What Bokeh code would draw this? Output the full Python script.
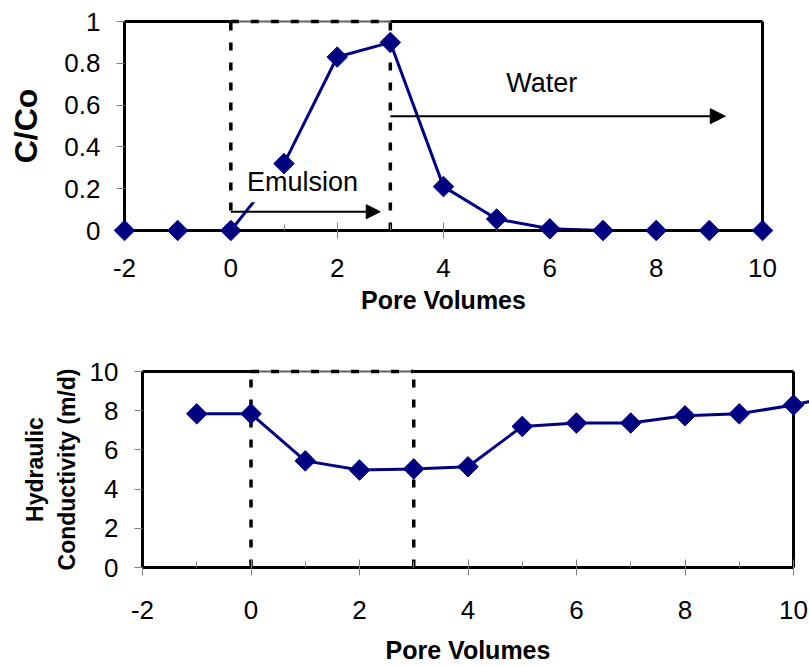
from bokeh.plotting import figure
from bokeh.layouts import column
from bokeh.models import (Range1d, SingleIntervalTicker, FixedTicker, PrintfTickFormatter,
                          Label, Arrow, NormalHead)
from bokeh.embed import file_html
from bokeh.resources import INLINE

# Breakthrough curve: relative concentration vs pore volumes
pv_conc = [-2, -1, 0, 1, 2, 3, 4, 5, 6, 7, 8, 9, 10]
c_over_co = [0, 0, 0, 0.32, 0.83, 0.90, 0.21, 0.055, 0.008, 0, 0, 0, 0]

# Hydraulic conductivity (m/d) vs pore volumes
pv_k = [-1, 0, 1, 2, 3, 4, 5, 6, 7, 8, 9, 10, 11]
k_md = [7.84, 7.84, 5.44, 4.97, 5.03, 5.14, 7.2, 7.37, 7.37, 7.74, 7.84, 8.29, 8.9]

# Emulsion injected between these pore volumes, then water flush
phase_bounds = [0, 3]
x_bounds = [-2, 10]
conc_bounds = [0, 1]
k_bounds = [0, 10]
conc_ticks = [0, 0.2, 0.4, 0.6, 0.8, 1]
k_ticks = [0, 2, 4, 6, 8, 10]

FONT = "Liberation Sans"
NAVY = "#000080"
DASH = "8 12"


def style_axes(p, x_title, y_title, y_ticks, y_title_size, y_title_standoff,
               x_label_standoff, x_title_standoff):
    xa, ya = p.xaxis[0], p.yaxis[0]
    xa.ticker = SingleIntervalTicker(interval=2, num_minor_ticks=2)
    ya.ticker = FixedTicker(ticks=y_ticks)
    for ax in (xa, ya):
        ax.formatter = PrintfTickFormatter(format="%g")
        ax.axis_line_color = "black"
        ax.axis_line_width = 3
        ax.major_tick_line_color = "#7f7f7f"
        ax.major_tick_line_width = 1
        ax.minor_tick_line_color = "#7f7f7f"
        ax.minor_tick_line_width = 1
        ax.major_label_text_font = FONT
        ax.major_label_text_font_size = "26px"
        ax.major_label_text_color = "black"
        ax.axis_label_text_font = FONT
        ax.axis_label_text_font_style = "bold"
        ax.axis_label_text_color = "black"
    xa.major_tick_in = 8
    xa.major_tick_out = 8
    xa.minor_tick_in = 6
    xa.minor_tick_out = 0
    xa.major_label_standoff = x_label_standoff
    xa.axis_label = x_title
    xa.axis_label_text_font_size = "25px"
    xa.axis_label_standoff = x_title_standoff
    ya.major_tick_in = 0
    ya.major_tick_out = 8
    ya.minor_tick_line_color = None
    ya.major_label_standoff = 16
    ya.axis_label = y_title
    ya.axis_label_text_font_size = y_title_size
    ya.axis_label_standoff = y_title_standoff
    p.xgrid.visible = False
    p.ygrid.visible = False
    p.outline_line_color = None


def frame_and_phases(p, y_bounds):
    lo, hi = y_bounds
    a, b = phase_bounds
    rs = []
    # solid frame top and right
    rs.append(p.line([x_bounds[0], a], [hi, hi], line_color="black", line_width=3))
    rs.append(p.line([b, x_bounds[1]], [hi, hi], line_color="black", line_width=3))
    rs.append(p.line([x_bounds[1], x_bounds[1]], [lo, hi], line_color="black", line_width=3))
    # dashed box marking the emulsion injection period
    rs.append(p.line([a, b], [hi, hi], line_color="#606060", line_width=2))
    rs.append(p.line([a, b], [hi, hi], line_color="black", line_width=3.5, line_dash=DASH))
    for xb in phase_bounds:
        rs.append(p.line([xb, xb], [lo, hi], line_color="black", line_width=3.5,
                         line_dash=DASH))
    for r in rs:
        r.level = "guide"


# ---- upper panel: C/Co ----
top = figure(width=778, height=330, output_backend="svg", toolbar_location=None,
             x_range=Range1d(*x_bounds), y_range=Range1d(*conc_bounds),
             min_border_left=124, min_border_right=16, min_border_top=21,
             min_border_bottom=100)
style_axes(top, "Pore Volumes", "C/Co", conc_ticks, "32px", 17, 20, 6)
frame_and_phases(top, conc_bounds)
top_line = top.line(pv_conc, c_over_co, line_color=NAVY, line_width=3)
top_line.level = "guide"

top.add_layout(Arrow(end=NormalHead(size=14, fill_color="black", line_color="black"),
                     x_start=0.0, y_start=0.09, x_end=2.81, y_end=0.09,
                     line_color="black", line_width=2))
top.add_layout(Label(x=0.21, y=0.135, text="Emulsion", text_font=FONT,
                     text_font_size="27px", text_color="black",
                     background_fill_color="white", padding=5))
top.add_layout(Arrow(end=NormalHead(size=15, fill_color="black", line_color="black"),
                     x_start=3.0, y_start=0.547, x_end=9.30, y_end=0.547,
                     line_color="black", line_width=2))
top.add_layout(Label(x=5.18, y=0.635, text="Water", text_font=FONT,
                     text_font_size="27px", text_color="black"))
# markers sit on top of axes and annotations, not cut at the frame edge
top_pts = top.scatter(pv_conc, c_over_co, marker="square", angle=0.785398, size=14.5,
                      fill_color=NAVY, line_color=NAVY)
top_pts.level = "overlay"

# ---- lower panel: hydraulic conductivity (shifted right by its margin) ----
bot = figure(width=791, height=336, output_backend="svg", toolbar_location=None,
             x_range=Range1d(*x_bounds), y_range=Range1d(*k_bounds),
             min_border_left=124, min_border_right=16, min_border_top=41,
             min_border_bottom=96, margin=(0, 0, 0, 18))
style_axes(bot, "Pore Volumes", "Hydraulic\nConductivity (m/d)", k_ticks,
           "23px", 7, 25, 14)
frame_and_phases(bot, k_bounds)
bot_line = bot.line(pv_k, k_md, line_color=NAVY, line_width=3)
bot_line.level = "guide"
bot_pts = bot.scatter(pv_k, k_md, marker="square", angle=0.785398, size=14.5,
                      fill_color=NAVY, line_color=NAVY)
bot_pts.level = "overlay"

layout = column(top, bot, spacing=0)
open("out.html", "w").write(file_html(layout, INLINE))
